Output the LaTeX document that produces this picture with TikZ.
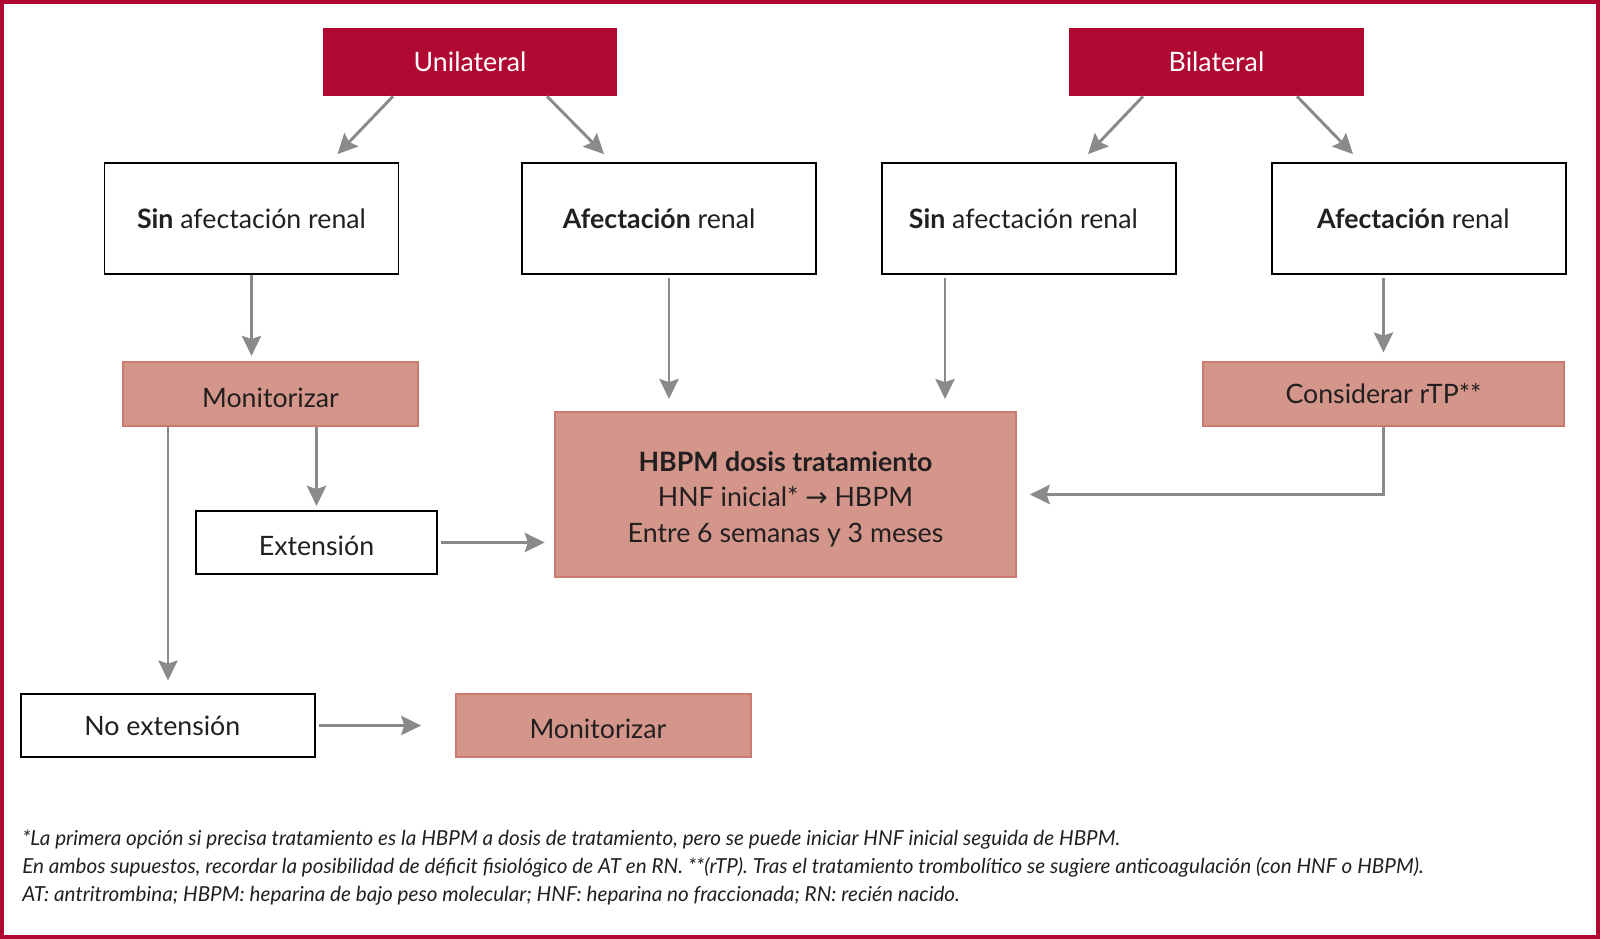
\documentclass[tikz,border=0pt]{standalone}
\usepackage{fontspec}
\setmainfont{Lato}
\newfontfamily\symfont{DejaVu Sans}
\usetikzlibrary{calc}
\usetikzlibrary{arrows.meta}

\definecolor{granate}{HTML}{B00A33}
\definecolor{rosado}{HTML}{D4968A}
\definecolor{rosaborde}{HTML}{C97C6E}
\definecolor{flecha}{HTML}{8A8A8A}
\definecolor{texto}{HTML}{231F20}

\tikzset{
    cabecera/.style={fill=granate, text=white, inner sep=0pt,
        font=\fontsize{19}{23}\selectfont},
    caja/.style={draw=black, line width=1.2pt, fill=white, text=texto, inner sep=0pt,
        font=\fontsize{19}{23}\selectfont},
    accion/.style={draw=rosaborde, line width=1.5pt, fill=rosado, text=texto, inner sep=0pt,
        font=\fontsize{19}{23}\selectfont},
    flechagris/.style={draw=flecha, line width=2.1pt,
        -{Stealth[length=0.5cm, width=0.48cm, inset=0.08cm]}}
}

\begin{document}
\begin{tikzpicture}[x=0.025cm, y=-0.025cm]
\useasboundingbox (0,0) rectangle (1600,939);
\draw[granate, line width=2.2pt] (2,2) rectangle (1598,937);

% centros de las cajas (en pixeles)
\coordinate (u) at (470, 62);
\coordinate (b) at (1216.5, 62);
\coordinate (s1) at (251.5, 218.5);
\coordinate (a1) at (669, 218.5);
\coordinate (s2) at (1029, 218.5);
\coordinate (a2) at (1419, 218.5);
\coordinate (m1) at (270.5, 394);
\coordinate (r) at (1383.5, 394);
\coordinate (h) at (785.5, 494.5);
\coordinate (e) at (316.5, 542.5);
\coordinate (n) at (168, 725.5);
\coordinate (m2) at (603.5, 725.5);

\newcommand{\flecha}[2]{
    \draw[flechagris] (#1)--(#2);
}

% cabeceras
\node[cabecera, minimum width=7.35cm, minimum height=1.7cm] (uni) at (u) {Unilateral};
\node[cabecera, minimum width=7.375cm, minimum height=1.7cm] (bil) at (b) {Bilateral};

% segunda fila
\node[caja, minimum width=7.35cm, minimum height=2.775cm] (sinL) at (s1) {\textbf{Sin} afectación renal};
\node[caja, minimum width=7.35cm, minimum height=2.775cm] (afL) at (a1) {\textbf{Afectación} renal\kern14pt};
\node[caja, minimum width=7.35cm, minimum height=2.775cm] (sinR) at (s2) {\textbf{Sin} afectación renal\kern8pt};
\node[caja, minimum width=7.35cm, minimum height=2.775cm] (afR) at (a2) {\textbf{Afectación} renal\kern8pt};

% acciones
\node[accion, minimum width=7.375cm, minimum height=1.6cm] (mon) at (m1) {\rule{0pt}{19pt}Monitorizar};
\node[accion, minimum width=9.025cm, minimum height=1.6cm] (rtp) at (r) {Considerar rTP**};
\node[accion, minimum width=11.525cm, minimum height=4.125cm, align=center,
    font=\fontsize{19}{25}\selectfont] (hbpm) at (h)
    {\rule{0pt}{21pt}\textbf{HBPM dosis tratamiento}\\HNF inicial* {\symfont→} HBPM\\Entre 6 semanas y 3 meses};
\node[caja, minimum width=6.025cm, minimum height=1.575cm] (ext) at (e) {\rule{0pt}{18pt}Extensión};
\node[caja, minimum width=7.35cm, minimum height=1.575cm] (noext) at (n) {No extensión\kern8pt};
\node[accion, minimum width=7.375cm, minimum height=1.575cm] (monB) at (m2) {\rule{0pt}{18pt}Monitorizar\kern8pt};

% flechas de las cabeceras
\flecha{$(uni.south)+(-77,0)$}{$(sinL.north)+(86,-8)$}
\flecha{$(uni.south)+(77,0)$}{$(afL.north)+(-65,-8)$}
\flecha{$(bil.south)+(-73.5,0)$}{$(sinR.north)+(59,-8)$}
\flecha{$(bil.south)+(80.5,0)$}{$(afR.north)+(-66,-8)$}

% flechas verticales
\coordinate (sr) at ($(sinR.south)+(-84,0)$);
\draw[flechagris, shorten >=3.6pt] (sinL.south) -- (sinL.south |- mon.north);
\draw[flechagris, shorten <=2pt, shorten >=8.5pt] (afL.south) -- (afL.south |- hbpm.north);
\draw[flechagris, shorten <=2pt, shorten >=8.5pt] (sr) -- (sr |- hbpm.north);
\draw[flechagris, shorten <=2pt, shorten >=6pt] (rtp.north |- afR.south) -- (rtp.north);
\draw[flechagris, shorten >=3pt] (ext.north |- mon.south) -- (ext.north);
\draw[flechagris, shorten >=9pt] (noext.north |- mon.south) -- (noext.north);

% flechas horizontales
\draw[flechagris, shorten >=9pt] (rtp.south) |- (hbpm.east);
\draw[flechagris, shorten <=2.5pt, shorten >=6.5pt] (ext.east) -- (ext.east -| hbpm.west);
\draw[flechagris, shorten <=2pt, shorten >=24pt] (noext.east) -- (monB.west);

% nota al pie
\node[anchor=base west, align=left, text=texto, inner sep=0pt,
    font=\fontsize{14.7}{19.9}\selectfont\itshape] (nota) at (22, 901)
    {*La primera opción si precisa tratamiento es la HBPM a dosis de tratamiento, pero se puede iniciar HNF inicial seguida de HBPM.\\
     En ambos supuestos, recordar la posibilidad de déficit fisiológico de AT en RN. **(rTP). Tras el tratamiento trombolítico se sugiere anticoagulación (con HNF o HBPM).\\
     AT: antritrombina; HBPM: heparina de bajo peso molecular; HNF: heparina no fraccionada; RN: recién nacido.};
\end{tikzpicture}
\end{document}
